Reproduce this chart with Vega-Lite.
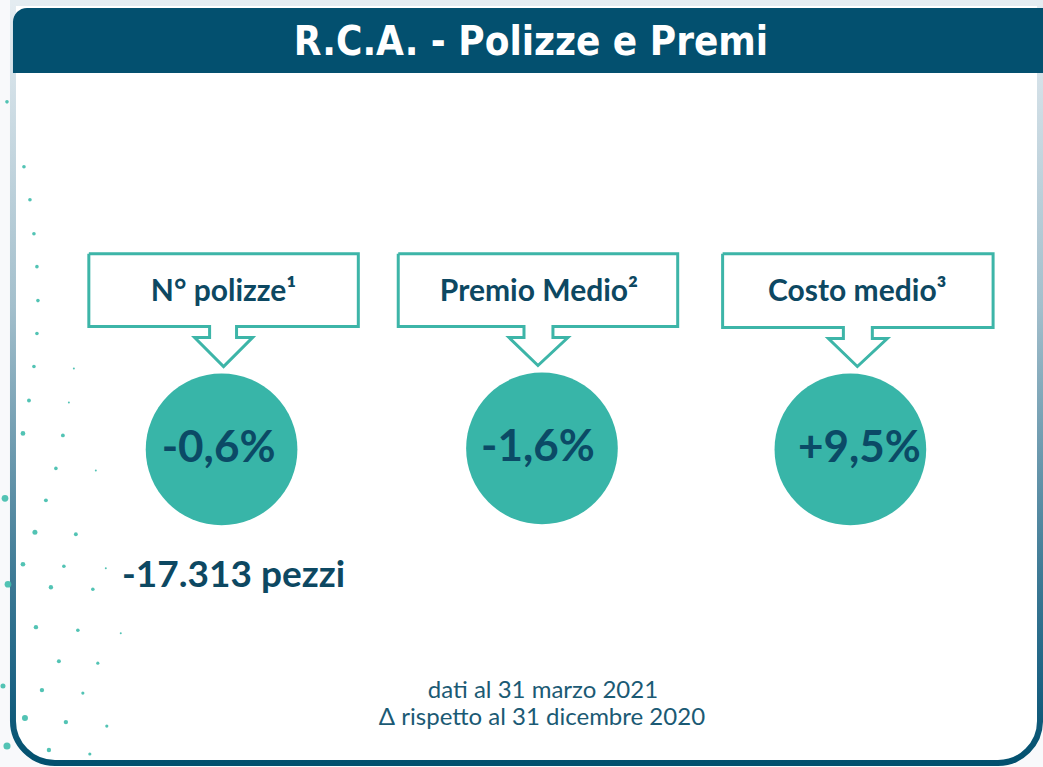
{
  "$schema": "https://vega.github.io/schema/vega-lite/v6.json",
  "width": 1043,
  "height": 767,
  "autosize": {"type": "fit", "contains": "padding"},
  "padding": 0,
  "background": "#f8f9fb",
  "config": {"view": {"stroke": null}},
  "datasets": {
    "frame": [{"x": 11, "x2": 1040, "y": 2, "y2": 763}],
    "header": [{"x": 11, "x2": 1043, "y": 7, "y2": 72, "title": "R.C.A. - Polizze e Premi", "tx": 530, "ty": 42}],
    "callouts": [
      {"g": 1, "o": 1, "x": 87, "y": 253}, {"g": 1, "o": 2, "x": 357, "y": 253}, {"g": 1, "o": 3, "x": 357, "y": 326}, {"g": 1, "o": 4, "x": 235, "y": 326}, {"g": 1, "o": 5, "x": 235, "y": 337}, {"g": 1, "o": 6, "x": 251, "y": 337}, {"g": 1, "o": 7, "x": 222, "y": 366}, {"g": 1, "o": 8, "x": 193, "y": 337}, {"g": 1, "o": 9, "x": 208, "y": 337}, {"g": 1, "o": 10, "x": 208, "y": 326}, {"g": 1, "o": 11, "x": 87, "y": 326}, {"g": 1, "o": 12, "x": 87, "y": 253},
      {"g": 2, "o": 1, "x": 397, "y": 253}, {"g": 2, "o": 2, "x": 677, "y": 253}, {"g": 2, "o": 3, "x": 677, "y": 326}, {"g": 2, "o": 4, "x": 552, "y": 326}, {"g": 2, "o": 5, "x": 552, "y": 337}, {"g": 2, "o": 6, "x": 567, "y": 337}, {"g": 2, "o": 7, "x": 537, "y": 365}, {"g": 2, "o": 8, "x": 508, "y": 337}, {"g": 2, "o": 9, "x": 523, "y": 337}, {"g": 2, "o": 10, "x": 523, "y": 326}, {"g": 2, "o": 11, "x": 397, "y": 326}, {"g": 2, "o": 12, "x": 397, "y": 253},
      {"g": 3, "o": 1, "x": 722, "y": 253}, {"g": 3, "o": 2, "x": 993, "y": 253}, {"g": 3, "o": 3, "x": 993, "y": 327}, {"g": 3, "o": 4, "x": 872, "y": 327}, {"g": 3, "o": 5, "x": 872, "y": 338}, {"g": 3, "o": 6, "x": 887, "y": 338}, {"g": 3, "o": 7, "x": 857, "y": 366}, {"g": 3, "o": 8, "x": 828, "y": 338}, {"g": 3, "o": 9, "x": 843, "y": 338}, {"g": 3, "o": 10, "x": 843, "y": 327}, {"g": 3, "o": 11, "x": 722, "y": 327}, {"g": 3, "o": 12, "x": 722, "y": 253}
    ],
    "metrics": [
      {"label": "N° polizze¹", "lx": 222, "ly": 291, "value": "-0,6%", "cx": 220, "cy": 449, "vx": 217},
      {"label": "Premio Medio²", "lx": 538, "ly": 291, "value": "-1,6%", "cx": 541, "cy": 448, "vx": 537},
      {"label": "Costo medio³", "lx": 857, "ly": 291, "value": "+9,5%", "cx": 850, "cy": 449, "vx": 859}
    ],
    "big": [{"text": "-17.313 pezzi", "x": 232, "y": 576}],
    "notes": [
      {"text": "dati al 31 marzo 2021", "x": 542, "y": 691},
      {"text": "Δ rispetto al 31 dicembre 2020", "x": 541, "y": 718}
    ],
    "dots": [
      {"x": 5, "y": 101, "s": 13}, {"x": 22, "y": 166, "s": 13}, {"x": 28, "y": 199, "s": 13}, {"x": 32, "y": 233, "s": 13}, {"x": 35, "y": 266, "s": 13}, {"x": 36, "y": 300, "s": 13}, {"x": 35, "y": 333, "s": 13}, {"x": 32, "y": 366, "s": 13}, {"x": 27, "y": 400, "s": 15}, {"x": 21, "y": 433, "s": 22}, {"x": 61, "y": 435, "s": 15}, {"x": 54, "y": 468, "s": 13}, {"x": 3, "y": 498, "s": 45}, {"x": 44, "y": 500, "s": 15}, {"x": 33, "y": 532, "s": 25}, {"x": 74, "y": 534, "s": 15}, {"x": 21, "y": 564, "s": 22}, {"x": 62, "y": 566, "s": 13}, {"x": 6, "y": 584, "s": 45}, {"x": 49, "y": 587, "s": 19}, {"x": 91, "y": 589, "s": 13}, {"x": 34, "y": 627, "s": 19}, {"x": 76, "y": 630, "s": 13},
      {"x": 72, "y": 368, "s": 4}, {"x": 67, "y": 402, "s": 4}, {"x": 94, "y": 470, "s": 4}, {"x": 104, "y": 568, "s": 4}, {"x": 119, "y": 633, "s": 4},
      {"x": 57, "y": 661, "s": 16}, {"x": 96, "y": 663, "s": 10}, {"x": 1, "y": 686, "s": 25}, {"x": 40, "y": 690, "s": 19}, {"x": 81, "y": 693, "s": 10}, {"x": 23, "y": 718, "s": 36}, {"x": 64, "y": 722, "s": 19}, {"x": 105, "y": 726, "s": 10}, {"x": 5, "y": 746, "s": 50}, {"x": 47, "y": 750, "s": 19}, {"x": 88, "y": 754, "s": 10}
    ]
  },
  "layer": [
    {
      "data": {"name": "frame"},
      "mark": {"type": "rect", "fill": "#ffffff", "strokeWidth": 6, "cornerRadiusBottomLeft": 42, "cornerRadiusBottomRight": 42,
        "stroke": {"gradient": "linear", "x1": 0, "y1": 0, "x2": 0, "y2": 1, "stops": [{"offset": 0, "color": "#e4ecf1"}, {"offset": 0.4, "color": "#a3bfcc"}, {"offset": 0.75, "color": "#3f7b96"}, {"offset": 0.9, "color": "#1b6283"}, {"offset": 1, "color": "#02506e"}]}},
      "encoding": {
        "x": {"field": "x", "type": "quantitative", "scale": {"domain": [0, 1043], "nice": false, "zero": false}, "axis": null},
        "x2": {"field": "x2"},
        "y": {"field": "y", "type": "quantitative", "scale": {"domain": [0, 767], "nice": false, "zero": false, "reverse": true}, "axis": null},
        "y2": {"field": "y2"}
      }
    },
    {
      "data": {"name": "dots"},
      "mark": {"type": "point", "shape": "circle", "filled": true, "color": "#3fbcac", "opacity": 0.9},
      "encoding": {
        "x": {"field": "x", "type": "quantitative", "axis": null},
        "y": {"field": "y", "type": "quantitative", "axis": null},
        "size": {"field": "s", "type": "quantitative", "scale": {"domain": [0, 50], "range": [0, 50], "zero": true}, "legend": null}
      }
    },
    {
      "data": {"name": "header"},
      "mark": {"type": "rect", "fill": "#03506f", "cornerRadiusTopLeft": 14},
      "encoding": {
        "x": {"field": "x", "type": "quantitative", "axis": null},
        "x2": {"field": "x2"},
        "y": {"field": "y", "type": "quantitative", "axis": null},
        "y2": {"field": "y2"}
      }
    },
    {
      "data": {"name": "header"},
      "mark": {"type": "text", "color": "#ffffff", "font": "DejaVu Sans Condensed", "fontWeight": "bold", "fontSize": 40, "align": "center", "baseline": "middle"},
      "encoding": {
        "x": {"field": "tx", "type": "quantitative", "axis": null},
        "y": {"field": "ty", "type": "quantitative", "axis": null},
        "text": {"field": "title"}
      }
    },
    {
      "data": {"name": "callouts"},
      "mark": {"type": "line", "stroke": "#3db5a8", "strokeWidth": 3, "strokeJoin": "miter", "interpolate": "linear"},
      "encoding": {
        "x": {"field": "x", "type": "quantitative", "axis": null},
        "y": {"field": "y", "type": "quantitative", "axis": null},
        "detail": {"field": "g", "type": "nominal"},
        "order": {"field": "o", "type": "quantitative"}
      }
    },
    {
      "data": {"name": "metrics"},
      "mark": {"type": "point", "shape": "circle", "filled": true, "color": "#38b5a8", "opacity": 1, "size": 23000},
      "encoding": {
        "x": {"field": "cx", "type": "quantitative", "axis": null},
        "y": {"field": "cy", "type": "quantitative", "axis": null}
      }
    },
    {
      "data": {"name": "metrics"},
      "mark": {"type": "text", "color": "#0d4862", "font": "Lato", "fontWeight": "bold", "fontSize": 30, "align": "center", "baseline": "middle"},
      "encoding": {
        "x": {"field": "lx", "type": "quantitative", "axis": null},
        "y": {"field": "ly", "type": "quantitative", "axis": null},
        "text": {"field": "label"}
      }
    },
    {
      "data": {"name": "metrics"},
      "mark": {"type": "text", "color": "#0b4a66", "font": "Lato", "fontWeight": "bold", "fontSize": 44, "align": "center", "baseline": "middle"},
      "encoding": {
        "x": {"field": "vx", "type": "quantitative", "axis": null},
        "y": {"field": "cy", "type": "quantitative", "axis": null},
        "text": {"field": "value"}
      }
    },
    {
      "data": {"name": "big"},
      "mark": {"type": "text", "color": "#0d4862", "font": "Lato", "fontWeight": "bold", "fontSize": 37, "align": "center", "baseline": "middle"},
      "encoding": {
        "x": {"field": "x", "type": "quantitative", "axis": null},
        "y": {"field": "y", "type": "quantitative", "axis": null},
        "text": {"field": "text"}
      }
    },
    {
      "data": {"name": "notes"},
      "mark": {"type": "text", "color": "#1b5a74", "font": "Lato", "fontWeight": "normal", "fontSize": 24, "align": "center", "baseline": "middle"},
      "encoding": {
        "x": {"field": "x", "type": "quantitative", "axis": null},
        "y": {"field": "y", "type": "quantitative", "axis": null},
        "text": {"field": "text"}
      }
    }
  ]
}
